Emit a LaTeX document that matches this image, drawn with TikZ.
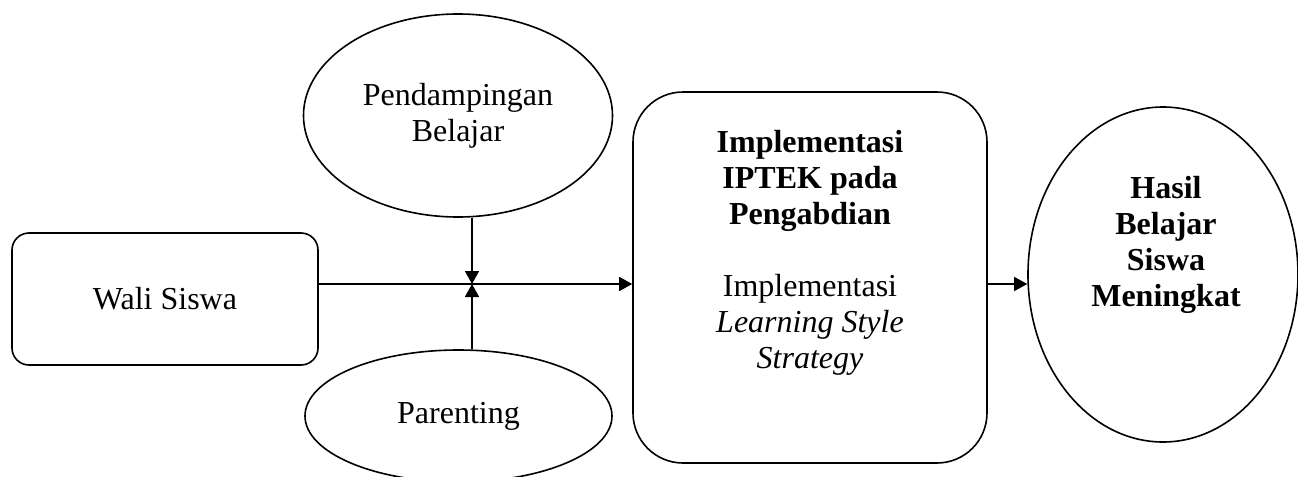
\documentclass[tikz,border=0pt]{standalone}
\usepackage{fontspec}
\setmainfont{Liberation Serif}
\usetikzlibrary{arrows.meta,shapes.geometric}
\begin{document}
\begin{tikzpicture}[x=0.5pt,y=-0.5pt,
	box/.style={draw, rectangle, line width=0.8pt},
	oval/.style={draw, ellipse, inner sep=0pt, line width=0.8pt},
	arr/.style={-{Triangle[length=6.5pt,width=7pt]}, line width=0.8pt},
	every node/.style={font=\fontsize{16}{18}\selectfont, align=center}]
	\useasboundingbox (0,0) rectangle (1298,477);
	\node [box, rounded corners=8.5pt, minimum width=153pt, minimum height=66pt] (wali) at (165,299) {Wali Siswa};
	\node [oval, minimum width=154.5pt, minimum height=101.5pt] (pend) at (458,115.5) {Pendampingan\\Belajar};
	\node [oval, minimum width=153.5pt, minimum height=66pt] (par) at (458.5,416) {Parenting};
	\node [box, rounded corners=25pt, minimum width=177pt, minimum height=185.5pt] (impl) at (810,277.5) {};
	\node (impltext) at (810,253) {\textbf{Implementasi}\\\textbf{IPTEK pada}\\\textbf{Pengabdian}\\[18pt]Implementasi\\\textit{Learning Style}\\\textit{Strategy}};
	\node [oval, minimum width=135pt, minimum height=167.5pt] (hasil) at (1163,274.5) {};
	\node (hasiltext) at (1166,245) {\textbf{Hasil}\\\textbf{Belajar}\\\textbf{Siswa}\\\textbf{Meningkat}};
	\coordinate (jn) at (472,284);
	\draw [arr] (wali.east |- jn) -- (impl.west |- jn);
	\draw [arr] (pend.south -| jn) -- (jn);
	\draw [arr] (par.north -| jn) -- (jn);
	\draw [arr] (impl.east |- jn) -- (hasil.west |- jn);
\end{tikzpicture}
\end{document}
